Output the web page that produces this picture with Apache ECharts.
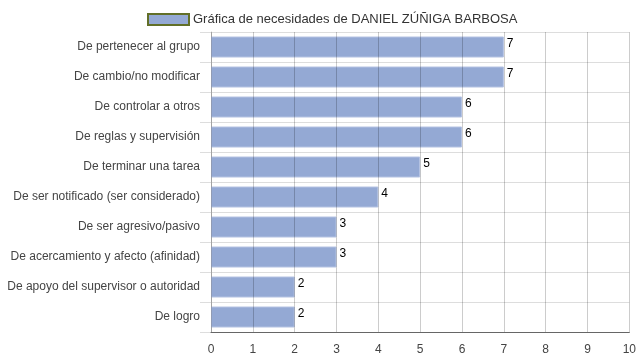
<!DOCTYPE html>
<html><head><meta charset="utf-8">
<script src="https://cdn.jsdelivr.net/npm/echarts@6/dist/echarts.min.js"></script>
<style>html,body{margin:0;padding:0;background:#fff}#c{width:639px;height:360px}</style>
</head><body><div id="c"></div>
<script>
const categories = ["De pertenecer al grupo","De cambio/no modificar","De controlar a otros","De reglas y supervisión","De terminar una tarea","De ser notificado (ser considerado)","De ser agresivo/pasivo","De acercamiento y afecto (afinidad)","De apoyo del supervisor o autoridad","De logro"];
const values = [7,7,6,6,5,4,3,3,2,2];
const seriesName = "Gráfica de necesidades de DANIEL ZÚÑIGA BARBOSA";
const xTicks = [0,1,2,3,4,5,6,7,8,9,10];

const chart = echarts.init(document.getElementById('c'), null, {renderer:'canvas'});
chart.setOption({
  animation:false,
  textStyle:{fontFamily:'Liberation Sans, Arial, sans-serif'},
  legend:{top:8,left:142,itemWidth:41,itemHeight:11,itemGap:6,icon:'rect',
    textStyle:{fontSize:13,color:'#333',padding:[0,0,0,-1]},
    data:[{name:seriesName,itemStyle:{color:'#94a9d4',borderColor:'#626f28',borderWidth:2}}]},
  grid:{left:211,right:9,top:32,bottom:28,containLabel:false},
  xAxis:{type:'value',min:xTicks[0],max:xTicks[xTicks.length-1],interval:1,z:5,
    axisLine:{show:true,lineStyle:{color:'#666',width:1}},
    axisTick:{show:false},
    axisLabel:{fontSize:12,color:'#444',margin:12},
    splitLine:{show:true,lineStyle:{color:'rgba(0,0,0,0.2)',width:1}}},
  yAxis:{type:'category',data:categories,inverse:true,z:1,
    axisLine:{show:true,lineStyle:{color:'#ccc'}},
    axisTick:{show:true,length:11,lineStyle:{color:'#ddd'}},
    axisLabel:{fontSize:12,color:'#444',margin:11},
    splitLine:{show:true,lineStyle:{color:'#ddd'}}},
  series:[{name:seriesName,type:'bar',data:values,barWidth:21,z:2,
    itemStyle:{color:'#94a9d4',borderColor:'#b4c2e2',borderWidth:1},
    label:{show:true,position:['100%',0],offset:[3,1],align:'left',verticalAlign:'top',
      color:'#000',fontSize:12}}]
});
</script></body></html>
